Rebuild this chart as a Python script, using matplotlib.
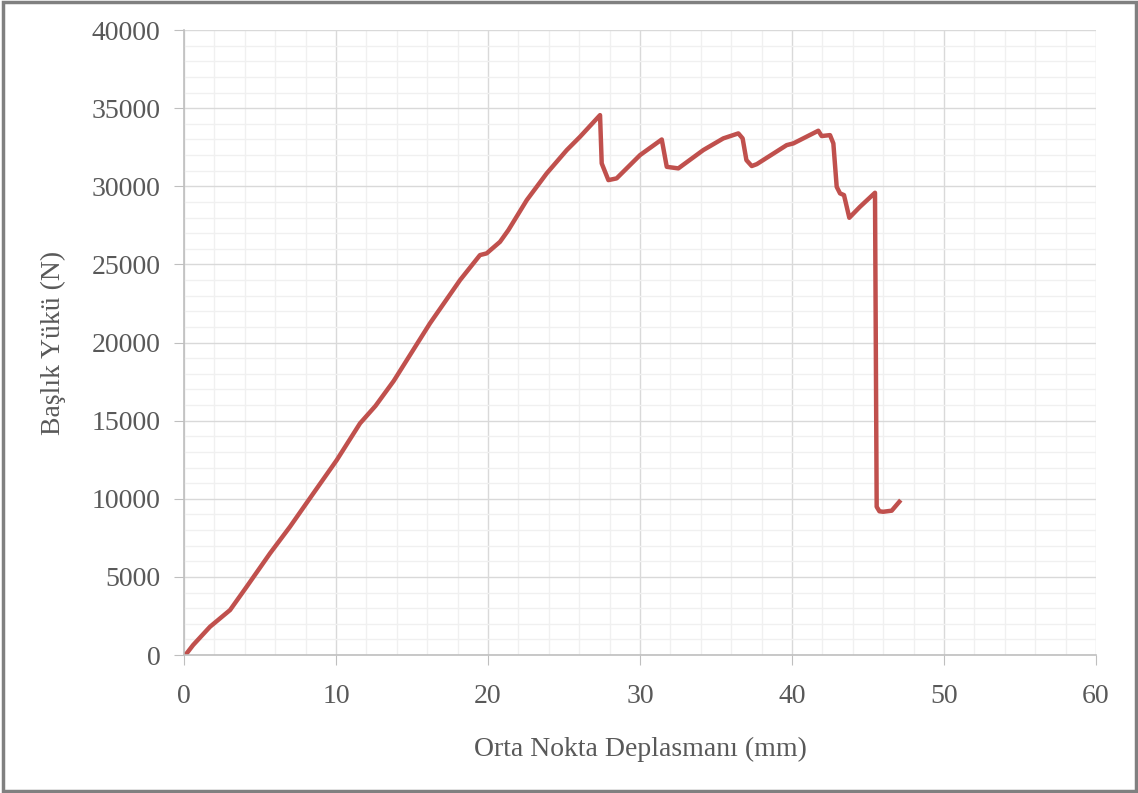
import matplotlib.pyplot as plt
from matplotlib.ticker import MultipleLocator
from matplotlib.patches import Rectangle

plt.rcParams['font.family'] = ['Liberation Serif', 'DejaVu Serif']

# deplasman (mm) ve yük (N)
deplasman = [0.0, 0.18, 0.6, 1.71, 3.03, 4.12, 5.66, 6.97, 8.51, 10.05, 11.58,
             12.6, 13.8, 16.18, 18.16, 19.47, 19.91, 20.79, 21.34, 22.55,
             23.86, 25.18, 26.05, 27.37, 27.48, 27.92, 28.46, 30.0, 31.43,
             31.76, 32.52, 34.16, 35.48, 36.47, 36.75, 37.0, 37.35, 37.68,
             39.65, 40.09, 41.73, 41.95, 42.5, 42.72, 42.94, 43.16, 43.42,
             43.77, 44.47, 45.46, 45.57, 45.75, 46.0, 46.56, 47.06]
yuk = [0, 110, 640, 1810, 2880, 4370, 6510, 8210, 10350, 12480, 14830,
       15950, 17550, 21230, 24000, 25600, 25710, 26450, 27200, 29120,
       30830, 32320, 33170, 34560, 31470, 30400, 30510, 32000, 33000,
       31250, 31150, 32320, 33070, 33390, 33070, 31680, 31300, 31420,
       32640, 32750, 33560, 33220, 33280, 32750, 29970, 29550, 29440,
       27990, 28690, 29590, 9490, 9200, 9170, 9240, 9810]

text_color = '#595959'

fig = plt.figure(figsize=(11.38, 7.93), dpi=100)
ax = fig.add_axes([0.1617, 0.174, 0.8014, 0.788])

ax.plot(deplasman, yuk, color='#C0504D', linewidth=3.2, solid_joinstyle='round')

ax.set_xlim(0, 60)
ax.set_ylim(0, 40000)
ax.xaxis.set_major_locator(MultipleLocator(10))
ax.xaxis.set_minor_locator(MultipleLocator(2))
ax.yaxis.set_major_locator(MultipleLocator(5000))
ax.yaxis.set_minor_locator(MultipleLocator(1000))
ax.grid(which='major', color='#D9D9D9', linewidth=1.0)
ax.grid(which='minor', color='#F0F0F0', linewidth=1.0)
ax.set_axisbelow(True)

for s in ['top', 'right']:
    ax.spines[s].set_visible(False)
for s in ['left', 'bottom']:
    ax.spines[s].set_color('#BFBFBF')
    ax.spines[s].set_linewidth(1.2)

ax.tick_params(which='major', length=7, color='#BFBFBF', labelcolor=text_color,
               labelsize=20)
ax.tick_params(axis='x', pad=14)
ax.tick_params(axis='y', pad=10)
ax.tick_params(which='minor', length=0)

ax.set_xlabel('Orta Nokta Deplasmanı (mm)', fontsize=20, color=text_color, labelpad=20)
ax.set_ylabel('Başlık Yükü (N)', fontsize=20, color=text_color, labelpad=18)

# dış çerçeve
fig.patches.append(Rectangle((0.003, 0.002), 0.995, 0.995, transform=fig.transFigure,
                             fill=False, edgecolor='#808080', linewidth=2.5))

fig.savefig('out.png', dpi=100)
